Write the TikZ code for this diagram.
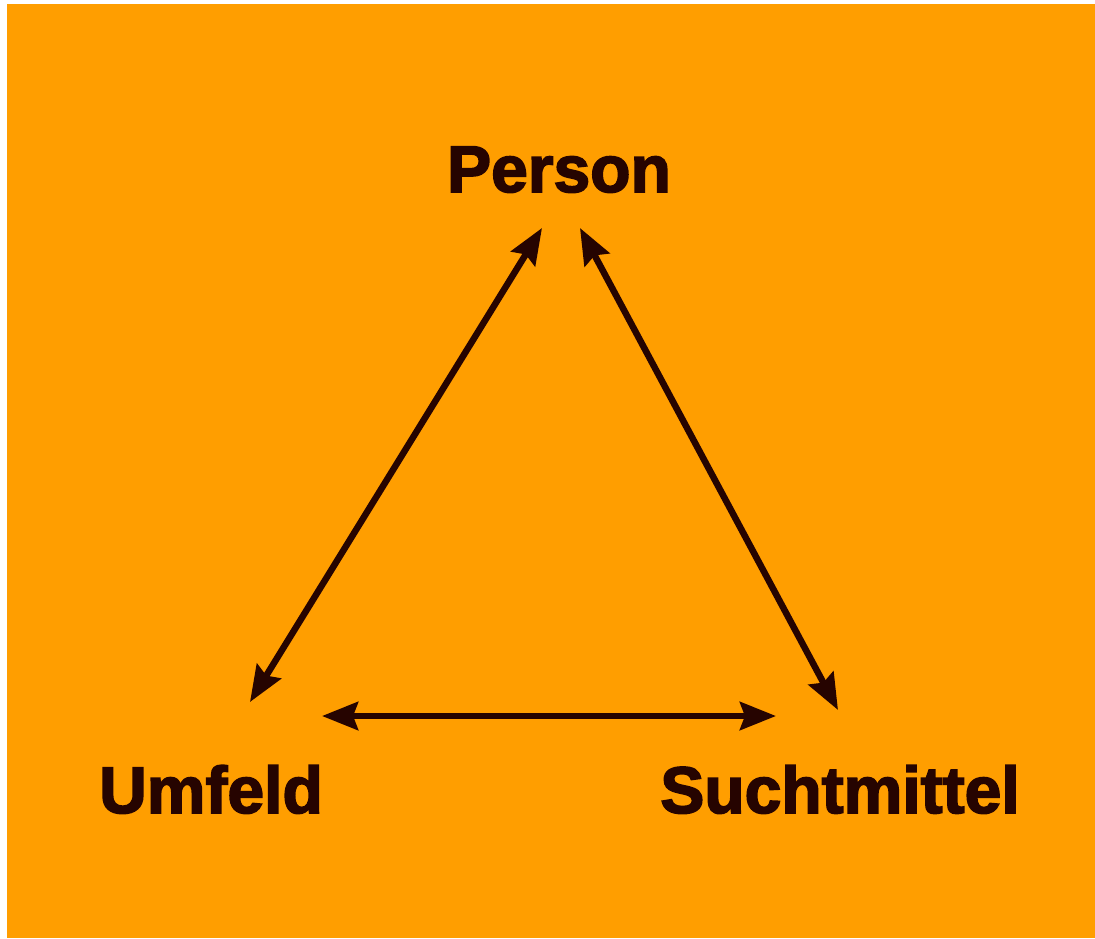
\documentclass[tikz,border=0pt]{standalone}
\usepackage{fontspec}
\setmainfont{Liberation Sans}
\newfontfamily\heavyfont[FakeBold=2.5,BoldFont={Liberation Sans Bold},BoldFeatures={FakeBold=2.5}]{Liberation Sans Bold}
\usetikzlibrary{arrows.meta}
\definecolor{bgorange}{RGB}{255,158,0}
\definecolor{ink}{RGB}{38,4,0}
\begin{document}
\begin{tikzpicture}[x=1pt,y=-1pt,
  lbl/.style={anchor=base,inner sep=0pt,text=ink,font=\fontsize{66}{72}\heavyfont},
  conn/.style={draw=ink,line width=6.5pt,{Stealth[length=36pt,width=28pt,inset=5pt]}-{Stealth[length=36pt,width=28pt,inset=5pt]}}]
\useasboundingbox (0,0) rectangle (1095,938);
\fill[white] (0,0) rectangle (1095,938);
\fill[bgorange] (7,4) rectangle (1095,938);
\node[lbl] (person) at (559,192) {Person};
\node[lbl] (umfeld) at (211,813) {Umfeld};
\node[lbl] (sucht) at (840,813) {Suchtmittel};
\coordinate (pL) at (542,228);
\coordinate (pR) at (580,228);
\coordinate (uT) at (250,702);
\coordinate (uR) at (322,716);
\coordinate (sL) at (776,716);
\coordinate (sT) at (838,710);
\draw[conn] (uT) -- (pL);
\draw[conn] (pR) -- (sT);
\draw[conn] (uR) -- (sL);
\end{tikzpicture}
\end{document}
